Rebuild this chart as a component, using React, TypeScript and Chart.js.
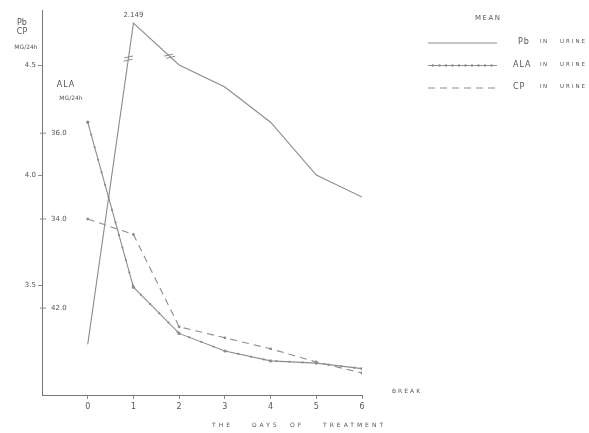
import React, { useEffect, useRef } from 'react';
import { Chart, registerables } from 'chart.js';
Chart.register(...registerables);

// Data (values on the Pb / CP scale, mg/24h)
const days = [0, 1, 2, 3, 4, 5, 6];
const pbValues = [3.23, 4.69, 4.5, 4.4, 4.24, 4.0, 3.9];
const alaValues = [4.24, 3.49, 3.28, 3.2, 3.155, 3.145, 3.12];
const cpValues = [3.8, 3.73, 3.31, 3.26, 3.21, 3.15, 3.1];
const yTickValues = [3.5, 4.0, 4.5];
const alaTickValues = [4.19, 3.8, 3.395];
const alaTickLabels = ['36.0', '34.0', '42.0'];
const peakLabel = '2.149';
const xTitleWords = ['THE', 'DAYS', 'OF', 'TREATMENT'];
const breakMarks = [
  { from: 0, t: 0.89 },
  { from: 1, t: 0.79 },
];
const legendItems = [
  { sym: 'Pb', dash: [] as number[], dots: false },
  { sym: 'ALA', dash: [] as number[], dots: true },
  { sym: 'CP', dash: [7, 5], dots: false },
];

const LINE = '#8c8c8c';
const TEXT = '#555';
const FONT = '"DejaVu Sans", sans-serif';

const annotate = {
  id: 'annotate',
  afterDatasetsDraw(chart: any) {
    // dotted style along the ALA line
    const ctx = chart.ctx as CanvasRenderingContext2D;
    const meta = chart.getDatasetMeta(1);
    const els = meta.data;
    ctx.save();
    ctx.fillStyle = LINE;
    let carry = 0;
    const step = 13;
    for (let i = 0; i < els.length - 1; i++) {
      const a = els[i];
      const b = els[i + 1];
      const len = Math.hypot(b.x - a.x, b.y - a.y);
      let d = step - carry;
      while (d < len) {
        const t = d / len;
        ctx.beginPath();
        ctx.arc(a.x + (b.x - a.x) * t, a.y + (b.y - a.y) * t, 1.1, 0, Math.PI * 2);
        ctx.fill();
        d += step;
      }
      carry = len - (d - step);
    }
    ctx.restore();
  },
  afterDraw(chart: any) {
    const ctx = chart.ctx as CanvasRenderingContext2D;
    const xs = chart.scales.x;
    const ys = chart.scales.y;
    ctx.save();
    ctx.fillStyle = TEXT;
    ctx.strokeStyle = LINE;
    ctx.textBaseline = 'middle';

    const txt = (s: string, x: number, y: number, size = 7, align: CanvasTextAlign = 'left', spacing = 1) => {
      ctx.font = `${size}px ${FONT}`;
      (ctx as any).letterSpacing = `${spacing}px`;
      ctx.textAlign = align;
      ctx.fillText(s, x, y);
    };

    // peak label
    txt(peakLabel, xs.getPixelForValue(days[1]), ys.getPixelForValue(pbValues[1]) - 8, 7, 'center', 0);

    // break marks on Pb line
    ctx.lineWidth = 1;
    breakMarks.forEach((b) => {
      const x0 = xs.getPixelForValue(days[b.from]);
      const y0 = ys.getPixelForValue(pbValues[b.from]);
      const x1 = xs.getPixelForValue(days[b.from + 1]);
      const y1 = ys.getPixelForValue(pbValues[b.from + 1]);
      const cx = x0 + (x1 - x0) * b.t;
      const cy = y0 + (y1 - y0) * b.t;
      const len = Math.hypot(x1 - x0, y1 - y0);
      const ux = (x1 - x0) / len;
      const uy = (y1 - y0) / len;
      [-1.6, 1.6].forEach((o) => {
        const px = cx + ux * o;
        const py = cy + uy * o;
        ctx.beginPath();
        ctx.moveTo(px - 4.5, py + 1);
        ctx.lineTo(px + 4.5, py - 1);
        ctx.stroke();
      });
    });

    // left axis title
    txt('Pb', 22, 23, 8, 'center', 0);
    txt('CP', 22, 32, 8, 'center', 0);
    txt('MG/24h', 26, 47, 6, 'center', 0);

    // ALA axis title and ticks
    txt('ALA', 66, 85, 8, 'center', 1);
    txt('MG/24h', 71, 98, 6, 'center', 0);
    alaTickValues.forEach((v, i) => {
      const y = ys.getPixelForValue(v);
      ctx.beginPath();
      ctx.moveTo(xs.left - 2, y);
      ctx.lineTo(xs.left + 4, y);
      ctx.stroke();
      txt(alaTickLabels[i], xs.left + 9, y, 7, 'left', 0);
    });

    // x axis texts
    txt('BREAK', 392, 391, 6, 'left', 2);
    const wordX = [212, 252, 290, 323];
    xTitleWords.forEach((w, i) => txt(w, wordX[i], 425, 6, 'left', 3));

    // legend
    txt('MEAN', 475, 18, 7, 'left', 1.5);
    legendItems.forEach((it, i) => {
      const y = 43 + i * 22.5;
      ctx.strokeStyle = LINE;
      ctx.lineWidth = 1;
      ctx.setLineDash(it.dash);
      ctx.beginPath();
      ctx.moveTo(428, y);
      ctx.lineTo(497, y);
      ctx.stroke();
      ctx.setLineDash([]);
      if (it.dots) {
        ctx.fillStyle = LINE;
        for (let k = 0; k < 10; k++) {
          ctx.beginPath();
          ctx.arc(433 + k * 6.5, y, 1.2, 0, Math.PI * 2);
          ctx.fill();
        }
        ctx.fillStyle = TEXT;
      }
      txt(it.sym, it.sym === 'Pb' ? 518 : 513, y - 1, 8, 'left', 1);
      txt('IN', 540, y - 1, 5.5, 'left', 1.5);
      txt('URINE', 560, y - 1, 5.5, 'left', 2);
    });

    ctx.restore();
  },
};

export default function App() {
  const ref = useRef<HTMLCanvasElement>(null);
  useEffect(() => {
    document.body.style.margin = '0';
    const pts = (vals: number[]) => days.map((d, i) => ({ x: d, y: vals[i] }));
    const chart = new Chart(ref.current as HTMLCanvasElement, {
      type: 'line',
      data: {
        datasets: [
          {
            label: 'Pb in urine',
            data: pts(pbValues),
            borderColor: LINE,
            borderWidth: 1.1,
            pointRadius: 0,
            tension: 0,
          },
          {
            label: 'ALA in urine',
            data: pts(alaValues),
            borderColor: LINE,
            backgroundColor: LINE,
            borderWidth: 1.1,
            pointRadius: 1.6,
            pointBorderWidth: 0,
            tension: 0,
          },
          {
            label: 'CP in urine',
            data: pts(cpValues),
            borderColor: LINE,
            backgroundColor: LINE,
            borderWidth: 1.1,
            borderDash: [7, 5],
            pointRadius: 1.4,
            pointBorderWidth: 0,
            tension: 0,
          },
        ],
      },
      options: {
        animation: false,
        responsive: false,
        layout: { padding: { left: 0, right: 227, top: 10, bottom: 0 } },
        plugins: { legend: { display: false }, tooltip: { enabled: false } },
        scales: {
          x: {
            type: 'linear',
            min: -1,
            max: 6,
            afterBuildTicks: (s: any) => {
              s.ticks = days.map((v) => ({ value: v }));
            },
            afterFit: (s: any) => {
              s.height = 38;
            },
            grid: { display: true, drawOnChartArea: false, drawTicks: true, tickLength: 4, color: LINE },
            border: { display: true, color: '#777', width: 1 },
            ticks: { font: { family: FONT, size: 8 }, color: TEXT, padding: 3, callback: (v: any) => String(v) },
          },
          y: {
            type: 'linear',
            min: 3.0,
            max: 4.75,
            afterBuildTicks: (s: any) => {
              s.ticks = yTickValues.map((v) => ({ value: v }));
            },
            afterFit: (s: any) => {
              s.width = 42;
            },
            grid: { display: true, drawOnChartArea: false, drawTicks: true, tickLength: 4, color: LINE },
            border: { display: true, color: '#777', width: 1 },
            ticks: { font: { family: FONT, size: 7 }, color: TEXT, padding: 2, callback: (v: any) => Number(v).toFixed(1) },
          },
        },
      },
      plugins: [annotate],
    });
    return () => chart.destroy();
  }, []);
  return <canvas ref={ref} width={589} height={433} style={{ display: 'block' }} />;
}
